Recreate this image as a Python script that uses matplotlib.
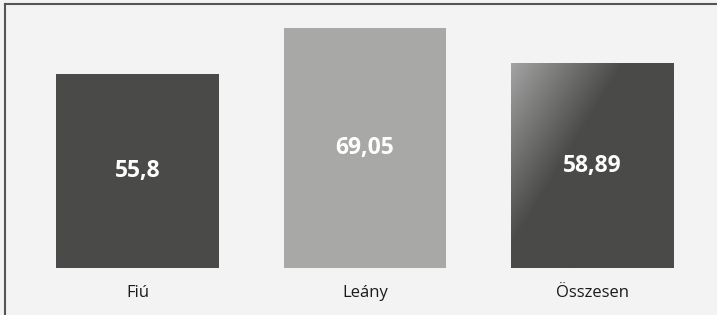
import numpy as np
import matplotlib
matplotlib.use('Agg')
import matplotlib.pyplot as plt
from matplotlib.lines import Line2D

categories = ['Fiú', 'Leány', 'Összesen']
values = [55.8, 69.05, 58.89]
value_labels = ['55,8', '69,05', '58,89']
colors = ['#4a4a48', '#a8a8a6', '#4a4a48']

plt.rcParams['font.family'] = ['Open Sans', 'DejaVu Sans']

fig = plt.figure(figsize=(7.17, 3.15), dpi=100)
fig.patch.set_facecolor('#f3f3f3')
ax = fig.add_axes([23.75 / 717, 47 / 315, 682.5 / 717, 261 / 315])
ax.set_facecolor('#f3f3f3')

x = np.arange(len(categories))
bars = ax.bar(x, values, width=0.716, color=colors, zorder=2)

# gradient fill for the total bar (light top-left -> dark)
b = bars[2]
bx, bw, bh = b.get_x(), b.get_width(), b.get_height()
u = np.linspace(0, 1, 200)
v = np.linspace(0, 1, 260)
U, V = np.meshgrid(u, v)
t = np.clip(1.445 * U + 1.12 * V, 0, 1)
light = np.array([0xa3, 0xa3, 0xa3]) / 255
dark = np.array([0x4a, 0x4a, 0x48]) / 255
img = light + (dark - light) * t[..., None]
im = ax.imshow(img, extent=(bx, bx + bw, 0, bh), origin='upper',
               aspect='auto', zorder=3)
im.set_clip_path(b)
b.set_facecolor('none')

for xi, val, lab in zip(x, values, value_labels):
    ax.text(xi, val / 2, lab, ha='center', va='center', color='white',
            fontsize=16.5, fontweight='bold', zorder=4)

ax.set_xlim(-0.5, 2.5)
ax.set_ylim(0, 75)
ax.set_xticks(x)
ax.set_xticklabels(categories, fontsize=12, color='#1a1a1a')
ax.tick_params(axis='x', length=0, pad=12)
ax.set_yticks([])
for s in ax.spines.values():
    s.set_visible(False)

# frame lines on top and left
fig.add_artist(Line2D([5 / 717, 1], [1 - 4 / 315, 1 - 4 / 315],
                      transform=fig.transFigure, color='#555555', lw=1.5))
fig.add_artist(Line2D([5 / 717, 5 / 717], [0, 1 - 4 / 315],
                      transform=fig.transFigure, color='#555555', lw=1.5))

fig.savefig('out.png', dpi=100, facecolor=fig.get_facecolor())
